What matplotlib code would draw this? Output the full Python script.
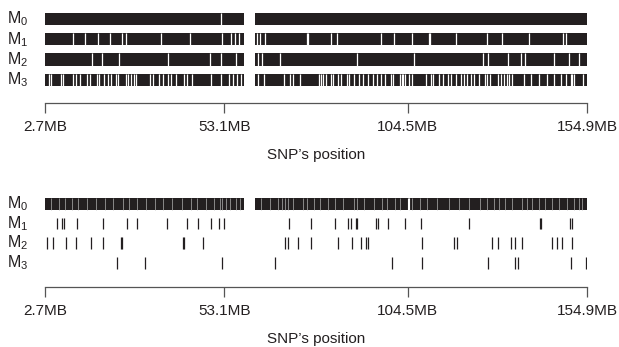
import matplotlib.pyplot as plt
from matplotlib.transforms import blended_transform_factory

plt.rcParams["font.family"] = ["Liberation Sans", "DejaVu Sans"]
plt.rcParams["mathtext.fontset"] = "custom"
plt.rcParams["mathtext.rm"] = "Liberation Sans"
plt.rcParams["mathtext.default"] = "regular"

# row names and x axis
row_names = ["M$_0$", "M$_1$", "M$_2$", "M$_3$"]
tick_pos = [2.7, 53.1, 104.5, 154.9]
tick_labels = ["2.7MB", "53.1MB", "104.5MB", "154.9MB"]
x_title = "SNP\u2019s position"

# chromosome arms (MB), the centromere gap sits between them
arms = [(2.7, 58.5), (61.7, 154.9)]

# top panel: break points (MB) inside each solid row
top_m0 = [52.2]
top_m1 = [10.6, 14.0, 17.6, 20.9, 24.3, 25.5, 35.4, 43.4, 52.3, 55.0, 56.1, 57.2,
          62.3, 63.0, 64.4, 76.2, 76.6, 82.9, 84.6, 97.0, 100.8, 105.8, 110.5, 110.9,
          118.2, 126.8, 131.1, 138.7, 148.1, 149.1]
top_m2 = [16.0, 18.6, 23.5, 37.2, 49.1, 52.0, 56.3, 62.5, 63.7, 68.8, 90.4, 106.4,
          125.7, 127.0, 132.8, 136.5, 137.4, 145.6, 149.9, 152.6]
top_m3 = [3.8, 4.4, 7.3, 7.8, 10.6, 11.5, 12.5, 14.4, 15.3, 17.2, 17.9, 19.3, 20.3,
          21.2, 22.7, 23.1, 25.4, 26.0, 26.8, 27.8, 28.3, 32.2, 33.1, 34.8, 35.8,
          37.2, 38.1, 39.6, 41.6, 42.7, 44.0, 49.4, 52.0, 54.3, 55.5, 56.6, 57.7,
          62.5, 64.2, 69.8, 71.4, 72.4, 74.2, 79.6, 80.2, 80.9, 81.6, 83.0, 83.5,
          85.1, 85.8, 87.4, 88.2, 89.6, 90.8, 91.9, 93.3, 94.7, 95.9, 97.1, 98.2,
          99.9, 100.5, 102.4, 103.0, 103.3, 103.9, 105.0, 105.8, 109.7, 111.1,
          111.7, 113.3, 114.4, 115.8, 116.7, 118.0, 119.4, 120.4, 121.3, 122.2,
          123.2, 124.6, 126.2, 126.9, 127.7, 129.9, 130.8, 131.6, 132.4, 133.0,
          133.9, 137.2, 139.1, 141.4, 143.8, 145.6, 147.5, 148.9, 150.3, 150.7,
          151.2, 153.9]
top_breaks = [top_m0, top_m1, top_m2, top_m3]

# bottom panel: M0 is dense (lighter streaks), M1..M3 are single hits
bot_m0_streaks = [4.5, 6.6, 8.3, 10.2, 12.1, 14.4, 17.0, 19.5, 21.7, 24.6, 26.4,
                  28.6, 31.2, 33.5, 35.9, 38.4, 41.1, 43.8, 45.5, 47.8, 50.1, 51.9,
                  52.5, 53.4, 54.6, 56.3, 57.5, 63.4, 65.9, 68.2, 69.3, 70.1, 71.0,
                  72.4, 75.2, 76.2, 78.1, 80.0, 82.2, 84.0, 86.5, 89.4, 90.3, 92.2,
                  95.0, 97.3, 98.7, 101.1, 102.5, 104.8, 105.8, 108.1, 110.0, 112.8,
                  116.1, 118.9, 121.7, 124.9, 126.8, 128.7, 130.1, 132.0, 133.8,
                  136.6, 138.1, 139.5, 141.3, 143.2, 145.1, 147.0, 149.3, 151.2,
                  152.6, 153.5]
bot_m0_gaps = [104.6, 105.0]
bot_m1 = [6.2, 7.4, 7.9, 11.8, 19.1, 25.8, 28.6, 36.9, 42.5, 45.8, 49.3, 51.6, 52.9,
          71.3, 77.3, 84.0, 87.8, 88.7, 89.9, 90.3, 95.7, 96.2, 99.0, 103.9, 108.4,
          121.8, 141.6, 142.1, 150.2, 150.7]
bot_m2 = [3.2, 4.9, 8.5, 11.4, 15.5, 19.1, 24.0, 24.4, 41.4, 41.8, 47.2, 70.1, 71.0,
          73.8, 77.5, 85.0, 88.8, 91.3, 92.9, 93.5, 108.6, 117.5, 118.4, 128.3,
          129.9, 133.5, 134.7, 136.6, 145.2, 146.6, 148.0, 150.8]
bot_m3 = [23.0, 30.8, 52.5, 67.3, 100.2, 108.7, 127.2, 134.8, 135.5, 150.5, 154.5]
bot_hits = [bot_m1, bot_m2, bot_m3]

ink = "#231f20"
axis_grey = "#555555"
W, H = 619, 347
bar_h = 0.6

fig = plt.figure(figsize=(W / 100, H / 100), dpi=100)
ax_top = fig.add_axes([45 / W, 1 - 90 / H, 542 / W, 81.3 / H])
ax_bot = fig.add_axes([45 / W, 1 - 272.7 / H, 542 / W, 78.8 / H])

#top panel: solid rows broken by white lines
for i, brk in enumerate(top_breaks):
    for a, b in arms:
        ax_top.barh(i, b - a, left=a, height=bar_h, color=ink, linewidth=0)
    ax_top.vlines(brk, i - bar_h / 2, i + bar_h / 2, color="white", lw=0.9)

#bottom panel
for a, b in arms:
    ax_bot.barh(0, b - a, left=a, height=bar_h, color=ink, linewidth=0)
ax_bot.vlines(bot_m0_streaks, -bar_h / 2, bar_h / 2, color="#b5b5b5", lw=0.7, alpha=0.7)
ax_bot.vlines(bot_m0_gaps, -bar_h / 2, bar_h / 2, color="white", lw=0.8)
for i, hits in enumerate(bot_hits, start=1):
    ax_bot.vlines(hits, i - bar_h / 2, i + bar_h / 2, color=ink, lw=0.9)

for ax, offset in [(ax_top, 9.6), (ax_bot, 10.3)]:
    ax.set_xlim(2.7, 154.9)
    ax.set_ylim(3.5, -0.5)
    for s in ["top", "left", "right"]:
        ax.spines[s].set_visible(False)
    ax.spines["bottom"].set_position(("outward", offset))
    ax.spines["bottom"].set_color(axis_grey)
    ax.spines["bottom"].set_linewidth(0.9)
    ax.spines["bottom"].set_bounds(2.7, 154.9)
    ax.set_yticks([])
    ax.set_xticks(tick_pos, tick_labels)
    ax.tick_params(axis="x", length=7, width=0.9, color=axis_grey, pad=5,
                   labelsize=11, labelcolor=ink)
    ax.set_xlabel(x_title, fontsize=11, color=ink, labelpad=10)
    trans = blended_transform_factory(fig.transFigure, ax.transData)
    for i, name in enumerate(row_names):
        ax.text(7 / W, i, name, transform=trans, ha="left", va="center",
                fontsize=11.5, color=ink)

fig.savefig("out.png", dpi=100)
